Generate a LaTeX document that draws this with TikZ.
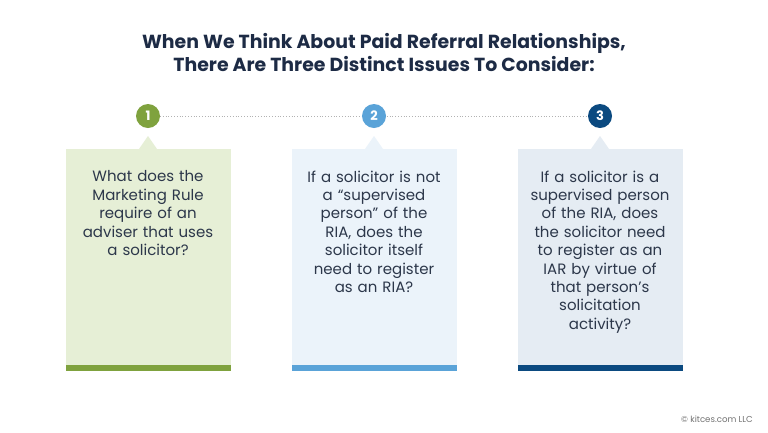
\documentclass[tikz,border=0pt]{standalone}
\usepackage{fontspec}
\setmainfont{Poppins}
\newfontfamily\titlefont{Poppins}[UprightFont=* Bold]
\definecolor{navy}{HTML}{1D2B45}
\definecolor{gA}{HTML}{7FA23E}
\definecolor{gAl}{HTML}{E6EFD6}
\definecolor{bB}{HTML}{5AA3D8}
\definecolor{bBl}{HTML}{EBF3FA}
\definecolor{nC}{HTML}{0B4A80}
\definecolor{nCl}{HTML}{E5ECF3}
\definecolor{txt}{HTML}{2C374A}
\begin{document}
\begin{tikzpicture}[x=1pt,y=-1pt,
  numcirc/.style={circle,fill=#1,minimum size=24pt,inner sep=0pt,text=white,font=\titlefont\fontsize{13}{13}\selectfont},
  boxtext/.style={align=center,text=txt,font=\fontsize{15}{18.4}\selectfont,anchor=north,text width=165pt,inner sep=0pt}]
\useasboundingbox (0,0) rectangle (768,432);
\fill[white] (0,0) rectangle (768,432);
\node[text=navy,align=center,font=\titlefont\fontsize{18.9}{23}\selectfont] (title) at (384,53) {When We Think About Paid Referral Relationships,\\There Are Three Distinct Issues To Consider:};
% dotted line
\coordinate (l1) at (160,116);
\coordinate (l3) at (588,116);
\draw[gray!60,dotted,line width=0.8pt] (l1) -- (l3);
% boxes
\foreach \cx/\fc/\bc/\n in {148/gAl/gA/1,374/bBl/bB/2,600/nCl/nC/3}{
  \fill[\fc] (\cx-82.5,149) rectangle (\cx+82.5,365);
  \fill[\fc] (\cx-9,149) -- (\cx,136) -- (\cx+9,149) -- cycle;
  \fill[\bc] (\cx-82.5,365) rectangle (\cx+82.5,371);
  \node[numcirc=\bc] (c\n) at (\cx,116) {\n};
}
\node[boxtext] (t1) at (148,170.5) {What does the\\Marketing Rule\\require of an\\adviser that uses\\a solicitor?};
\node[boxtext] (t2) at (374,170.5) {If a solicitor is not\\a “supervised\\person” of the\\RIA, does the\\solicitor itself\\need to register\\as an RIA?};
\node[boxtext] (t3) at (600,170.5) {If a solicitor is a\\supervised person\\of the RIA, does\\the solicitor need\\to register as an\\IAR by virtue of\\that person’s\\solicitation\\activity?};
\node[anchor=east,text=gray!90!black,font=\fontsize{8.6}{8.6}\selectfont,inner sep=0pt] (copy) at (753,419) {© kitces.com LLC};
\end{tikzpicture}
\end{document}
